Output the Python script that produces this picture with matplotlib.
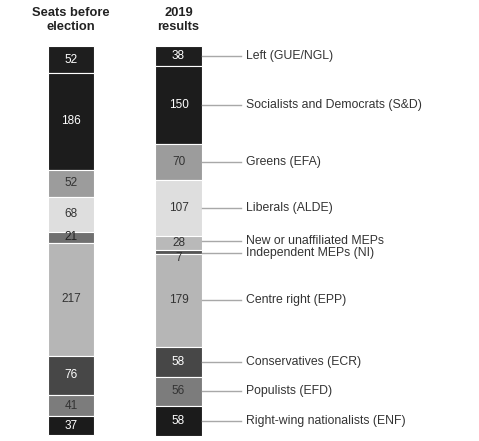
import matplotlib
matplotlib.use("Agg")
import matplotlib.pyplot as plt

plt.rcParams['font.family'] = ['Liberation Sans', 'DejaVu Sans']

# Data
before_values = [52, 186, 52, 68, 21, 217, 76, 41, 37]
before_colors = ['#1e1e1e', '#1c1c1c', '#9c9c9c', '#dedede', '#707070', '#b6b6b6', '#474747', '#7c7c7c', '#1b1b1b']
before_text = ['white', 'white', '#333333', '#333333', '#222222', '#333333', 'white', '#333333', 'white']

results_values = [38, 150, 70, 107, 28, 7, 179, 58, 56, 58]
results_colors = ['#1e1e1e', '#1c1c1c', '#9c9c9c', '#dedede', '#b9b9b9', '#555555', '#b6b6b6', '#474747', '#7c7c7c', '#1b1b1b']
results_text = ['white', 'white', '#333333', '#333333', '#333333', '#333333', '#333333', 'white', '#333333', 'white']
group_labels = ['Left (GUE/NGL)', 'Socialists and Democrats (S&D)', 'Greens (EFA)', 'Liberals (ALDE)',
                'New or unaffiliated MEPs', 'Independent MEPs (NI)', 'Centre right (EPP)',
                'Conservatives (ECR)', 'Populists (EFD)', 'Right-wing nationalists (ENF)']
headers = ['Seats before\nelection', '2019\nresults']

W, H = 479, 441
fig = plt.figure(figsize=(W / 100, H / 100), dpi=100)
total = sum(results_values)
ax = fig.add_axes([0, 5 / H, 1, 390 / H])
ax.set_xlim(0, W)
ax.set_ylim(total, 0)
ax.axis('off')
spp = total / 390.0  # seats per pixel

x_before, x_after, bw = 71, 178.5, 46.5


def stack(x, values, colors):
    bottom = 0
    centers = []
    for v, c in zip(values, colors):
        ax.bar(x, v, bottom=bottom, width=bw, color=c, edgecolor='white', linewidth=0.8)
        centers.append(bottom + v / 2)
        bottom += v
    return centers


cb = stack(x_before, before_values, before_colors)
for v, cy, tc in zip(before_values, cb, before_text):
    ax.text(x_before, cy, str(v), ha='center', va='center', fontsize=8.5, color=tc)

ca = stack(x_after, results_values, results_colors)
for v, cy, tc in zip(results_values, ca, results_text):
    ty = cy
    if v < 10:
        ty = cy + 6 * spp
    ax.text(x_after, ty, str(v), ha='center', va='center', fontsize=8.5, color=tc)

# leader lines + labels
label_offsets = [0, 0, 0, 0, -1.5, 1.0, 0, 0, 0, 0]
for lab, cy, off in zip(group_labels, ca, label_offsets):
    ly = cy + off * spp
    ax.plot([x_after + bw / 2, 241], [ly, ly], color='#a8a8a8', lw=1.0, clip_on=False)
    ax.text(246, ly, lab, ha='left', va='center', fontsize=8.8, color='#333333')

# headers
for x, h in zip([x_before, x_after], headers):
    ax.text(x, -(46 - 20) * spp, h, ha='center', va='center', fontsize=9.3, fontweight='bold',
            color='#222222', linespacing=1.15, clip_on=False)

fig.savefig('out.png', dpi=100, facecolor='white')
